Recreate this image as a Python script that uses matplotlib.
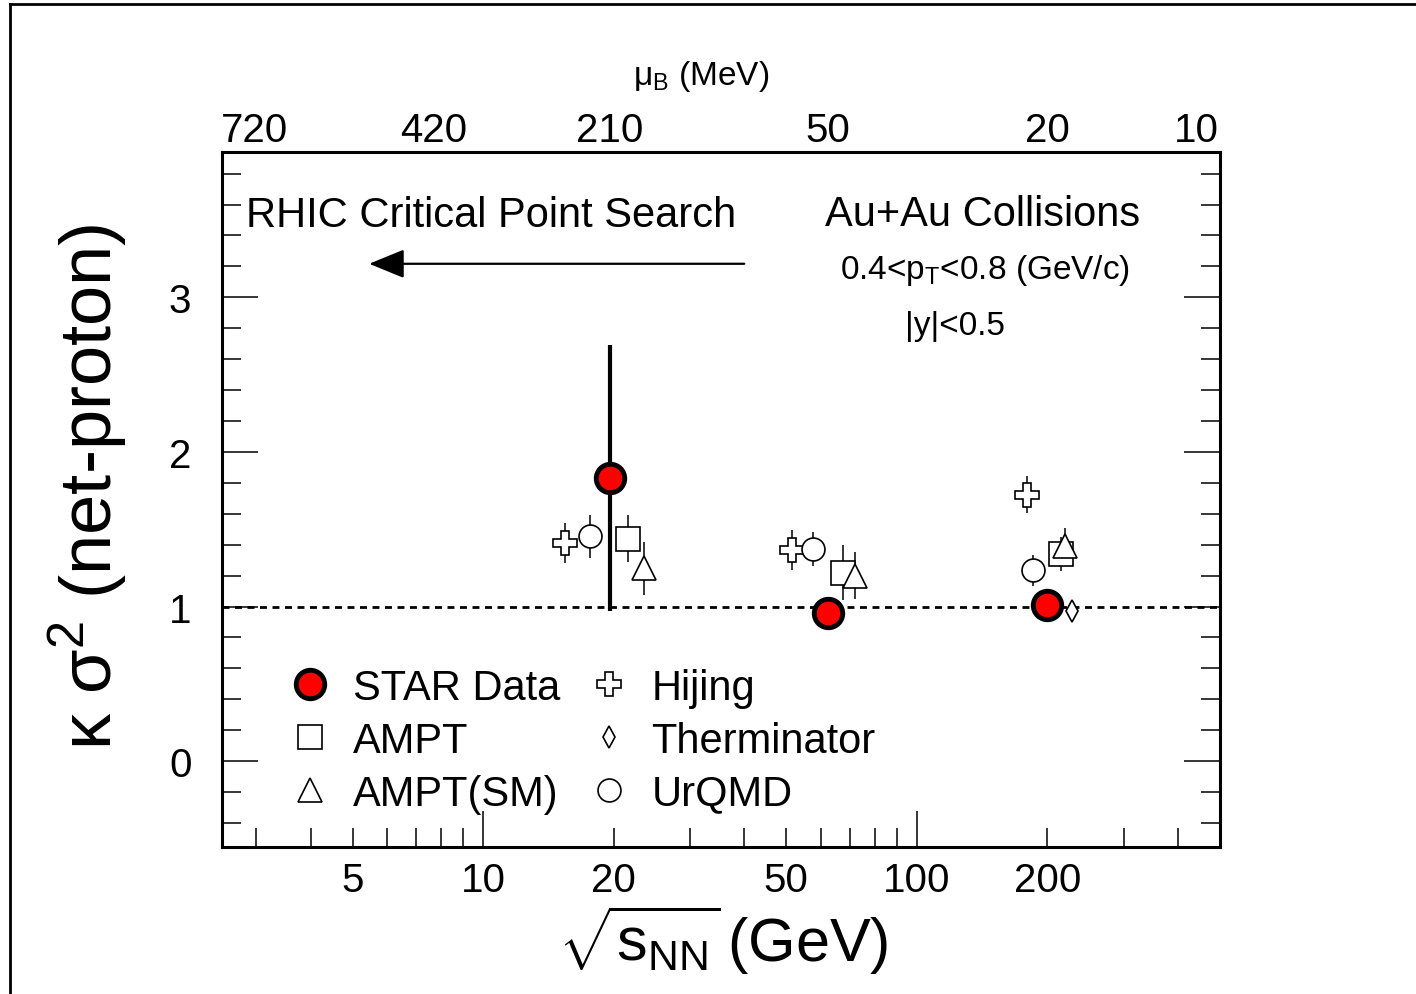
import matplotlib
matplotlib.use("Agg")
import matplotlib.pyplot as plt
from matplotlib.lines import Line2D
from matplotlib.ticker import FixedLocator, NullLocator, FuncFormatter, NullFormatter

plt.rcParams['font.family'] = ['Liberation Sans', 'DejaVu Sans']
plt.rcParams['mathtext.fontset'] = 'custom'
plt.rcParams['mathtext.rm'] = 'Liberation Sans'
plt.rcParams['mathtext.it'] = 'Liberation Sans:italic'
plt.rcParams['mathtext.bf'] = 'Liberation Sans:bold'

# STAR data
star_e = [19.6, 62.4, 200]
star_val = [1.83, 0.957, 1.013]
star_err = [0.86, 0.05, 0.04]

# models (x already shifted a bit for visibility, as in the figure)
hijing_e = [15.45, 51.5, 179.5]
hijing_val = [1.41, 1.365, 1.724]
hijing_err = [0.13, 0.13, 0.12]

urqmd_e = [17.6, 57.6, 185]
urqmd_val = [1.455, 1.375, 1.235]
urqmd_err = [0.14, 0.11, 0.10]

ampt_e = [21.6, 67.5, 215]
ampt_val = [1.44, 1.22, 1.343]
ampt_err = [0.15, 0.18, 0.11]

amptsm_e = [23.5, 72.2, 220]
amptsm_val = [1.248, 1.20, 1.39]
amptsm_err = [0.17, 0.15, 0.12]

therm_e = [228]
therm_val = [0.97]
therm_err = [0.03]

# top axis: mu_B labels
mub_e = [2.97, 7.7, 19.6, 62.4, 200, 440]
mub_labels = ['720', '420', '210', '50', '20', '10']

xlabels_shown = {5: '5', 20: '20', 50: '50', 200: '200'}

fig = plt.figure(figsize=(14.16, 9.95), dpi=100)
ax = fig.add_axes([222/1416, 1-848/995, 998/1416, 695/995])

ax.set_xscale('log')
ax.set_xlim(2.5, 500)
ax.set_ylim(-0.555, 3.94)

ax.axhline(1.0, color='black', lw=2, ls=(0, (2.5, 2)), zorder=1)

def model(e, v, err, marker, ms):
    ax.errorbar(e, v, yerr=err, fmt='none', ecolor='black', elinewidth=1.1, zorder=2)
    ax.plot(e, v, ls='none', marker=marker, ms=ms, mfc='white', mec='black', mew=1.2, zorder=3)

model(hijing_e, hijing_val, hijing_err, 'P', 17)
model(urqmd_e, urqmd_val, urqmd_err, 'o', 16.5)
model(ampt_e, ampt_val, ampt_err, 's', 17)
model(amptsm_e, amptsm_val, amptsm_err, '^', 17.5)
model(therm_e, therm_val, therm_err, 'd', 11)

ax.errorbar(star_e, star_val, yerr=star_err, fmt='none', ecolor='black', elinewidth=3, zorder=4)
ax.plot(star_e, star_val, ls='none', marker='o', ms=20.5, mfc='red', mec='black', mew=3.5, zorder=5)

# ticks
ax.xaxis.set_major_locator(FixedLocator([10, 100]))
ax.xaxis.set_minor_locator(FixedLocator([3, 4, 5, 6, 7, 8, 9, 20, 30, 40, 50, 60, 70, 80, 90, 200, 300, 400]))
ax.xaxis.set_major_formatter(FuncFormatter(lambda v, p: '%d' % v))
ax.xaxis.set_minor_formatter(FuncFormatter(lambda v, p: xlabels_shown.get(int(round(v)), '')))
ax.yaxis.set_major_locator(FixedLocator([0, 1, 2, 3]))
ax.yaxis.set_minor_locator(FixedLocator([-0.4, -0.2, 0.2, 0.4, 0.6, 0.8, 1.2, 1.4, 1.6, 1.8,
                                         2.2, 2.4, 2.6, 2.8, 3.2, 3.4, 3.6, 3.8]))
ax.tick_params(axis='both', which='both', direction='in', width=1.1, labelsize=29)
ax.tick_params(axis='x', which='major', length=26, pad=10, top=False)
ax.tick_params(axis='x', which='minor', length=14, pad=10, top=False)
ax.tick_params(axis='y', which='major', length=26, pad=22, right=True)
ax.tick_params(axis='y', which='minor', length=14, right=True)
for s in ax.spines.values():
    s.set_linewidth(2.2)

ax2 = ax.twiny()
ax2.set_xscale('log')
ax2.set_xlim(ax.get_xlim())
ax2.xaxis.set_major_locator(FixedLocator(mub_e))
ax2.set_xticklabels(mub_labels)
ax2.xaxis.set_minor_locator(NullLocator())
ax2.xaxis.set_minor_formatter(NullFormatter())
ax2.tick_params(axis='x', which='both', length=0, pad=2, labelsize=29)

# texts
ax.text(0.024, 0.8935, 'RHIC Critical Point Search', transform=ax.transAxes,
        fontsize=30, ha='left', va='baseline')
ax.text(0.604, 0.895, 'Au+Au Collisions', transform=ax.transAxes,
        fontsize=30, ha='left', va='baseline')
ax.text(0.7645, 0.8187, r'0.4<p$_\mathrm{T}$<0.8 (GeV/c)', transform=ax.transAxes,
        fontsize=24, ha='center', va='baseline')
ax.text(0.7345, 0.738, '|y|<0.5', transform=ax.transAxes,
        fontsize=24, ha='center', va='baseline')
ax.annotate('', xy=(5.46, 3.217), xytext=(40, 3.217),
            arrowprops=dict(arrowstyle='-|>,head_length=1.1,head_width=0.45',
                            color='black', lw=1.6, mutation_scale=20, shrinkA=0, shrinkB=0))

fig.text(701/1416, 1-77/995, r'μ$_\mathrm{B}$ (MeV)', fontsize=24, ha='center', va='center')
fig.text(88/1416, 1-487/995, r'κ σ$^2$ (net-proton)', fontsize=52, rotation=90,
         ha='center', va='center')
fig.text(723/1416, 1-962/995, r'$\sqrt{\mathrm{s}_\mathrm{NN}}\,$(GeV)', fontsize=44,
         ha='center', va='baseline')

# legend
handles = [
    Line2D([], [], ls='none', marker='o', ms=20.5, mfc='red', mec='black', mew=3.5),
    Line2D([], [], ls='none', marker='s', ms=17, mfc='white', mec='black', mew=1.2),
    Line2D([], [], ls='none', marker='^', ms=17.5, mfc='white', mec='black', mew=1.2),
    Line2D([], [], ls='none', marker='P', ms=17, mfc='white', mec='black', mew=1.2),
    Line2D([], [], ls='none', marker='d', ms=11, mfc='white', mec='black', mew=1.2),
    Line2D([], [], ls='none', marker='o', ms=16.5, mfc='white', mec='black', mew=1.2),
]
labels = ['STAR Data', 'AMPT', 'AMPT(SM)', 'Hijing', 'Therminator', 'UrQMD']
ax.legend(handles, labels, ncol=2, loc='upper left', bbox_to_anchor=(0.064, 0.258),
          frameon=False, fontsize=30, handlelength=1.15, handletextpad=0.45,
          columnspacing=0.6, labelspacing=0.31, borderpad=0, borderaxespad=0)

# outer frame lines
fig.add_artist(Line2D([10/1416, 10/1416], [0, 1-5/995], transform=fig.transFigure, color='black', lw=2))
fig.add_artist(Line2D([10/1416, 1], [1-5/995, 1-5/995], transform=fig.transFigure, color='black', lw=2))

fig.savefig('out.png', dpi=100)
